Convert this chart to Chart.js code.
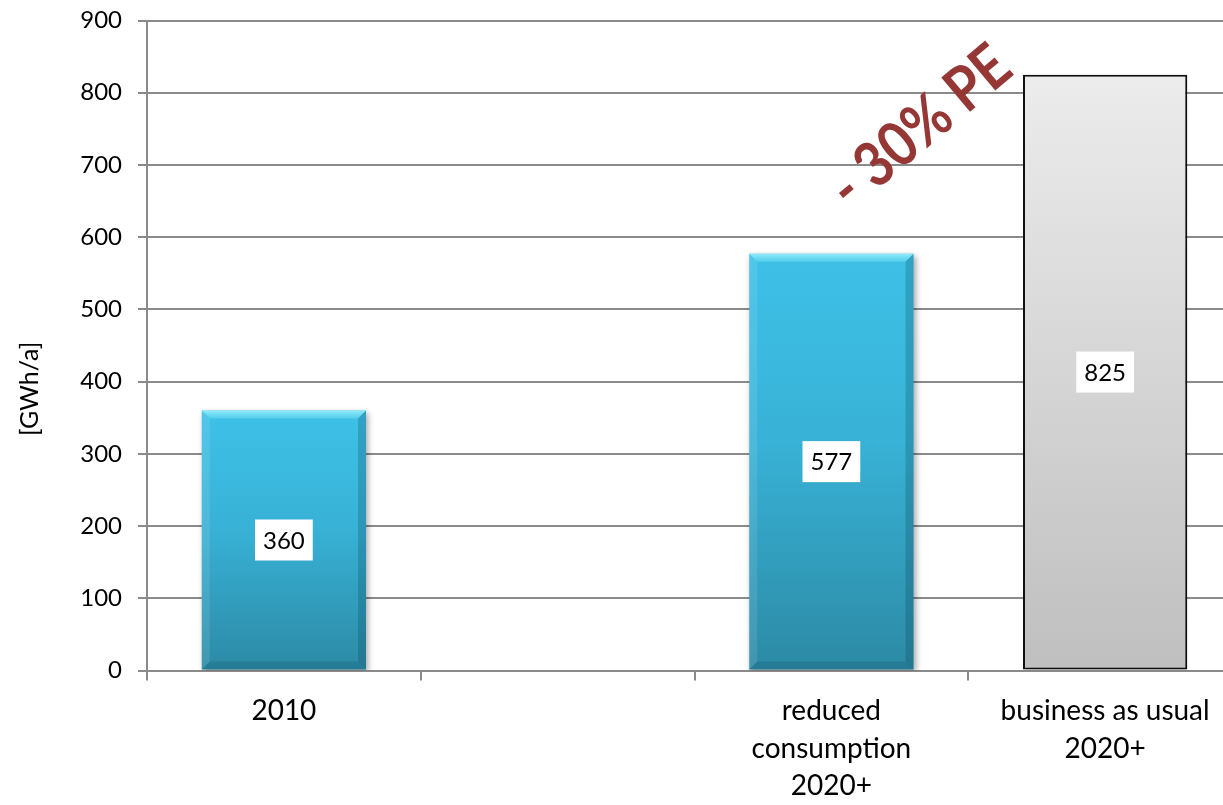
<!DOCTYPE html>
<html>
<head>
<meta charset="utf-8">
<script src="https://cdn.jsdelivr.net/npm/chart.js@4"></script>
<style>
  html, body { margin: 0; padding: 0; background: #fff; overflow: hidden; }
  #wrap { width: 1242px; height: 805px; position: relative; }
</style>
</head>
<body>
<div id="wrap"><canvas id="energyChart"></canvas></div>
<script>
// values
const categories = ['2010', '', ['reduced', 'consumption', '2020+'], ['business as usual', '2020+']];
const consumption = [360, null, 577, 825];
const yMax = 900;
const yStep = 100;
const axisTitle = '[GWh/a]';
const reductionNote = '- 30% PE';

const FONT = 'Lato, "Open Sans", sans-serif';
const GRID = '#8a8a8a';

function isBau(i) {
  return i === consumption.length - 1;
}

function barFill(ctx) {
  const chart = ctx.chart;
  const y = chart.scales.y;
  if (!y || !chart.chartArea || ctx.raw == null) return '#39b1d4';
  const top = y.getPixelForValue(ctx.raw);
  const bottom = y.getPixelForValue(0);
  const g = chart.ctx.createLinearGradient(0, top, 0, bottom);
  if (isBau(ctx.dataIndex)) {
    g.addColorStop(0, '#ececec');
    g.addColorStop(1, '#bfbfbf');
  } else {
    g.addColorStop(0, '#3ec1e7');
    g.addColorStop(0.45, '#38b2d6');
    g.addColorStop(1, '#2c8aa5');
  }
  return g;
}

// bevel, shadow, value boxes and the annotation
const decorations = {
  id: 'decorations',
  beforeDatasetsDraw(chart) {
    const c = chart.ctx;
    c.save();
    c.shadowColor = 'rgba(0,0,0,0.35)';
    c.shadowBlur = 6;
    c.shadowOffsetX = 2;
    c.shadowOffsetY = 2;
  },
  afterDatasetsDraw(chart) {
    const c = chart.ctx;
    c.restore();
    const meta = chart.getDatasetMeta(0);

    meta.data.forEach((bar, i) => {
      if (consumption[i] == null || isBau(i)) return;
      const p = bar.getProps(['x', 'y', 'base', 'width'], true);
      const x0 = p.x - p.width / 2, x1 = p.x + p.width / 2;
      const y0 = p.y, y1 = p.base, b = 8;
      c.save();
      // top
      const tg = c.createLinearGradient(0, y0, 0, y0 + b);
      tg.addColorStop(0, 'rgba(150,238,252,0.95)');
      tg.addColorStop(1, 'rgba(100,215,240,0.6)');
      c.beginPath();
      c.moveTo(x0, y0); c.lineTo(x1, y0); c.lineTo(x1 - b, y0 + b); c.lineTo(x0 + b, y0 + b);
      c.closePath();
      c.fillStyle = tg;
      c.fill();
      // left
      c.beginPath();
      c.moveTo(x0, y0); c.lineTo(x0 + b, y0 + b); c.lineTo(x0 + b, y1 - b); c.lineTo(x0, y1);
      c.closePath();
      c.fillStyle = 'rgba(255,255,255,0.10)';
      c.fill();
      // right
      c.beginPath();
      c.moveTo(x1, y0); c.lineTo(x1 - b, y0 + b); c.lineTo(x1 - b, y1 - b); c.lineTo(x1, y1);
      c.closePath();
      c.fillStyle = 'rgba(0,40,60,0.20)';
      c.fill();
      // bottom
      c.beginPath();
      c.moveTo(x0, y1); c.lineTo(x0 + b, y1 - b); c.lineTo(x1 - b, y1 - b); c.lineTo(x1, y1);
      c.closePath();
      c.fillStyle = 'rgba(0,40,60,0.15)';
      c.fill();
      c.restore();
    });

    // value boxes
    c.save();
    c.font = '24px ' + FONT;
    c.textAlign = 'center';
    c.textBaseline = 'middle';
    meta.data.forEach((bar, i) => {
      if (consumption[i] == null) return;
      const p = bar.getProps(['x', 'y', 'base'], true);
      const cy = (p.y + p.base) / 2;
      const txt = String(consumption[i]);
      const w = c.measureText(txt).width + 16;
      const h = 41;
      c.fillStyle = '#ffffff';
      c.fillRect(p.x - w / 2, cy - h / 2, w, h);
      c.fillStyle = '#000000';
      c.fillText(txt, p.x, cy + 1);
    });
    c.restore();
  },
  afterDraw(chart) {
    const c = chart.ctx;
    const xs = chart.scales.x, ys = chart.scales.y;

    // y axis title
    c.save();
    c.translate(30, ys.getPixelForValue(390));
    c.rotate(-Math.PI / 2);
    c.font = '25px ' + FONT;
    c.fillStyle = '#000';
    c.textAlign = 'center';
    c.textBaseline = 'middle';
    c.fillText(axisTitle, 0, 0);
    c.restore();

    // rotated reduction note
    c.save();
    c.translate(xs.getPixelForValue(2.325), ys.getPixelForValue(752));
    c.rotate(-40 * Math.PI / 180);
    c.scale(0.86, 1);
    c.font = 'bold 62px ' + FONT;
    c.fillStyle = '#953735';
    c.textAlign = 'center';
    c.textBaseline = 'middle';
    c.fillText(reductionNote, 0, 0);
    c.restore();
  }
};

const data = {
  labels: categories,
  datasets: [{
    data: consumption,
    backgroundColor: barFill,
    borderColor: '#111111',
    borderWidth: (ctx) => isBau(ctx.dataIndex) ? 2 : 0,
    borderSkipped: false,
    barPercentage: 0.6,
    categoryPercentage: 1.0
  }]
};

const config = {
  type: 'bar',
  data: data,
  plugins: [decorations],
  options: {
    responsive: true,
    maintainAspectRatio: false,
    animation: false,
    layout: {
      padding: { top: 20.5, right: 0, bottom: 0, left: 0 }
    },
    plugins: {
      legend: { display: false },
      tooltip: { enabled: false }
    },
    scales: {
      x: {
        afterFit: (scale) => { scale.height = 134.5; },
        border: { color: GRID, width: 2 },
        grid: {
          drawOnChartArea: false,
          drawTicks: true,
          tickLength: 10,
          color: GRID,
          lineWidth: 2
        },
        ticks: {
          color: '#000',
          padding: 12,
          maxRotation: 0,
          autoSkip: false,
          font: { family: FONT, size: 28, lineHeight: 1.34 }
        }
      },
      y: {
        min: 0,
        max: yMax,
        afterFit: (scale) => {
          scale.width = 147;
          scale.paddingTop = 0;
          scale.paddingBottom = 0;
        },
        border: { color: GRID, width: 2 },
        grid: {
          color: GRID,
          lineWidth: 2,
          tickLength: 9
        },
        ticks: {
          stepSize: yStep,
          color: '#000',
          padding: 16,
          font: { family: FONT, size: 24 }
        }
      }
    }
  }
};

new Chart(document.getElementById('energyChart'), config);
</script>
</body>
</html>
